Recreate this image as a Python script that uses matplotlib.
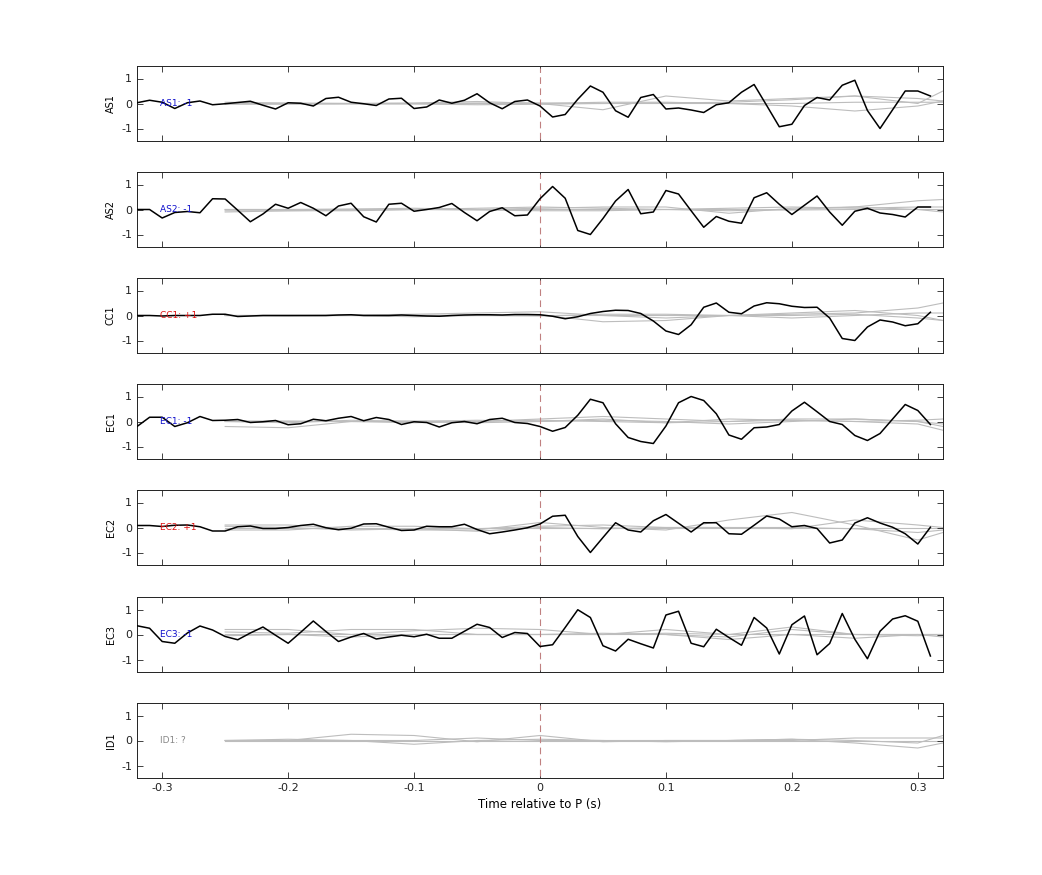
import numpy as np
import matplotlib
matplotlib.use("Agg")
import matplotlib.pyplot as plt

stations = ["AS1", "AS2", "CC1", "EC1", "EC2", "EC3", "ID1"]
labels = ["AS1: -1", "AS2: -1", "CC1: +1", "EC1: -1", "EC2: +1", "EC3: -1", "ID1: ?"]
label_colors = ["#1010cc", "#1010cc", "#dd1111", "#1010cc", "#dd1111", "#1010cc", "#888888"]

t_black = [-0.32 + 0.01 * i for i in range(64)]

AS1 = [0.03, 0.13, 0.05, -0.2, 0.03, 0.1, -0.05, -0.01, 0.04, 0.09, -0.07, -0.22, 0.03, 0.01, -0.1, 0.2,
       0.25, 0.05, -0.01, -0.08, 0.18, 0.21, -0.2, -0.14, 0.14, 0.01, 0.13, 0.39, 0.03, -0.21, 0.08, 0.14,
       -0.1, -0.54, -0.44, 0.17, 0.7, 0.45, -0.29, -0.55, 0.24, 0.36, -0.22, -0.18, -0.26, -0.36, -0.05, 0.03,
       0.45, 0.76, -0.08, -0.93, -0.83, -0.08, 0.24, 0.14, 0.73, 0.93, -0.28, -1.0, -0.25, 0.5, 0.5, 0.3]
AS2 = [0.0, 0.0, -0.34, -0.12, -0.08, -0.13, 0.43, 0.42, -0.03, -0.49, -0.18, 0.21, 0.05, 0.28, 0.05, -0.25,
       0.14, 0.25, -0.29, -0.5, 0.21, 0.25, -0.07, 0.0, 0.08, 0.24, -0.12, -0.45, -0.08, 0.07, -0.25, -0.22,
       0.43, 0.92, 0.45, -0.84, -1.0, -0.36, 0.34, 0.8, -0.17, -0.1, 0.76, 0.62, -0.05, -0.71, -0.28, -0.47,
       -0.55, 0.47, 0.67, 0.21, -0.2, 0.17, 0.54, -0.1, -0.63, -0.07, 0.05, -0.14, -0.2, -0.3, 0.1, 0.1]
CC1 = [0.0, 0.0, -0.02, 0.0, 0.0, 0.0, 0.05, 0.05, -0.04, -0.02, 0.0, 0.0, 0.0, 0.0, 0.0, 0.0,
       0.02, 0.03, 0.0, 0.0, 0.0, 0.02, 0.0, -0.02, -0.03, 0.0, 0.02, 0.03, 0.03, 0.02, 0.04, 0.04,
       0.03, -0.03, -0.13, -0.05, 0.08, 0.16, 0.21, 0.2, 0.08, -0.22, -0.62, -0.76, -0.37, 0.33, 0.5, 0.13,
       0.07, 0.38, 0.51, 0.47, 0.37, 0.32, 0.33, -0.1, -0.92, -1.0, -0.46, -0.18, -0.26, -0.41, -0.33, 0.13]
EC1 = [-0.2, 0.17, 0.17, -0.2, -0.05, 0.2, 0.04, 0.05, 0.08, -0.04, -0.01, 0.04, -0.13, -0.09, 0.09, 0.03,
       0.13, 0.2, 0.03, 0.16, 0.08, -0.12, -0.01, -0.04, -0.22, -0.05, 0.0, -0.09, 0.08, 0.13, -0.04, -0.08,
       -0.2, -0.39, -0.24, 0.25, 0.89, 0.75, -0.09, -0.64, -0.8, -0.88, -0.18, 0.75, 1.0, 0.84, 0.31, -0.54,
       -0.71, -0.25, -0.22, -0.12, 0.42, 0.77, 0.39, 0.0, -0.12, -0.56, -0.76, -0.48, 0.1, 0.68, 0.44, -0.12]
EC2 = [0.08, 0.08, 0.04, 0.09, 0.1, 0.03, -0.14, -0.14, 0.03, 0.06, -0.04, -0.04, 0.0, 0.08, 0.13, -0.01,
       -0.09, -0.03, 0.14, 0.15, 0.01, -0.12, -0.1, 0.05, 0.03, 0.03, 0.13, -0.08, -0.25, -0.18, -0.1, -0.01,
       0.14, 0.45, 0.49, -0.36, -1.0, -0.4, 0.19, -0.1, -0.18, 0.27, 0.52, 0.17, -0.18, 0.19, 0.19, -0.25,
       -0.27, 0.09, 0.46, 0.34, 0.03, 0.08, -0.04, -0.62, -0.5, 0.18, 0.39, 0.18, 0.01, -0.25, -0.66, 0.01]
EC3 = [0.35, 0.25, -0.28, -0.35, 0.06, 0.34, 0.18, -0.08, -0.21, 0.06, 0.3, -0.03, -0.35, 0.09, 0.54, 0.12,
       -0.28, -0.1, 0.04, -0.18, -0.1, -0.03, -0.09, 0.01, -0.15, -0.15, 0.13, 0.41, 0.28, -0.12, 0.08, 0.04,
       -0.48, -0.41, 0.28, 0.99, 0.68, -0.45, -0.66, -0.19, -0.37, -0.54, 0.78, 0.93, -0.35, -0.49, 0.21, -0.12,
       -0.43, 0.68, 0.26, -0.78, 0.39, 0.74, -0.81, -0.36, 0.84, -0.19, -0.97, 0.13, 0.62, 0.75, 0.53, -0.86]
black_series = [AS1, AS2, CC1, EC1, EC2, EC3, None]

t_gray = [-0.25, -0.2, -0.15, -0.1, -0.05, 0.0, 0.05, 0.1, 0.15, 0.2, 0.25, 0.3, 0.32]
gray_series = [
    [[0.0, 0.0, 0.0, 0.02, 0.08, 0.0, -0.25, 0.3, 0.1, 0.2, 0.3, 0.0, 0.5],
     [0.0, 0.0, 0.0, 0.0, 0.0, 0.0, 0.05, 0.05, 0.0, -0.1, -0.3, -0.1, 0.1],
     [0.05, 0.02, 0.0, 0.0, 0.02, 0.02, 0.0, 0.02, 0.05, 0.15, 0.3, 0.2, 0.1],
     [-0.03, -0.03, -0.02, -0.02, -0.05, -0.03, 0.0, 0.0, 0.0, 0.0, 0.05, 0.05, 0.05]],
    [[-0.1, -0.05, -0.05, 0.0, 0.05, 0.1, 0.05, 0.0, -0.05, 0.0, 0.1, 0.35, 0.4],
     [0.0, 0.0, 0.02, 0.05, 0.0, 0.05, 0.1, 0.1, -0.15, 0.05, 0.1, 0.0, -0.1],
     [-0.05, -0.05, -0.02, 0.0, 0.0, 0.0, 0.0, 0.0, 0.05, 0.1, 0.05, 0.1, 0.1],
     [0.0, 0.0, 0.0, 0.0, -0.02, -0.05, -0.05, 0.0, 0.0, -0.02, 0.0, 0.0, 0.0]],
    [[0.0, 0.0, 0.02, 0.05, 0.1, 0.15, 0.0, -0.1, 0.0, 0.05, 0.1, 0.3, 0.5],
     [0.0, -0.02, 0.0, -0.05, 0.0, 0.02, -0.25, -0.2, 0.0, 0.1, 0.2, 0.0, -0.2],
     [0.0, 0.0, 0.0, 0.02, 0.0, -0.02, 0.05, 0.05, 0.0, -0.1, 0.0, 0.1, 0.1],
     [0.0, 0.0, 0.0, 0.0, 0.0, 0.0, 0.0, 0.0, 0.0, 0.0, 0.05, -0.1, -0.2]],
    [[-0.2, -0.25, 0.0, 0.02, 0.0, 0.1, 0.2, 0.1, 0.0, 0.1, 0.1, 0.0, -0.2],
     [0.0, 0.0, 0.0, 0.0, 0.05, 0.0, 0.1, -0.05, 0.1, 0.05, 0.0, -0.1, -0.35],
     [0.02, 0.02, 0.0, -0.05, 0.0, 0.05, 0.0, -0.05, 0.0, 0.05, 0.0, 0.05, 0.1],
     [0.0, -0.05, 0.05, 0.0, -0.05, 0.0, 0.05, 0.0, -0.1, 0.0, 0.1, 0.0, -0.1]],
    [[0.1, 0.1, -0.05, -0.1, -0.1, 0.2, 0.0, -0.1, 0.3, 0.6, 0.1, -0.5, -0.2],
     [-0.1, -0.1, 0.05, 0.05, -0.05, 0.05, 0.1, 0.0, 0.0, -0.05, 0.3, 0.1, 0.0],
     [0.05, 0.0, -0.1, -0.05, -0.15, 0.0, -0.05, 0.0, 0.0, 0.0, -0.05, -0.2, -0.1],
     [0.0, 0.0, 0.0, 0.0, 0.0, 0.0, 0.0, 0.0, 0.0, 0.0, 0.0, 0.0, 0.0]],
    [[0.2, 0.2, 0.0, 0.15, 0.25, 0.2, 0.0, 0.0, -0.1, 0.2, 0.0, 0.0, -0.1],
     [0.1, 0.05, 0.2, 0.2, 0.0, 0.0, 0.0, 0.2, 0.0, 0.3, 0.0, -0.05, 0.0],
     [-0.05, 0.0, -0.1, 0.0, 0.0, 0.0, 0.05, 0.0, -0.2, 0.0, -0.15, 0.0, 0.0],
     [0.0, 0.0, 0.0, 0.0, 0.0, 0.0, 0.0, 0.05, 0.0, 0.0, 0.0, 0.0, 0.0]],
    [[0.0, 0.0, 0.25, 0.2, -0.05, 0.2, -0.05, 0.0, 0.0, 0.05, 0.0, -0.1, 0.2],
     [0.0, 0.0, 0.0, -0.15, 0.0, 0.05, 0.0, -0.05, 0.0, 0.05, -0.1, -0.3, -0.1],
     [0.0, 0.05, 0.0, 0.0, 0.1, 0.0, 0.0, 0.0, 0.0, 0.0, 0.1, 0.1, 0.1],
     [0.0, 0.0, 0.0, 0.0, 0.0, 0.0, 0.0, 0.0, 0.0, 0.0, 0.0, 0.0, 0.0]],
]

xticks = [-0.3, -0.2, -0.1, 0, 0.1, 0.2, 0.3]
xticklabels = ["-0.3", "-0.2", "-0.1", "0", "0.1", "0.2", "0.3"]

fig = plt.figure(figsize=(10.42, 8.75), dpi=100)
W, H = 1042, 875
left, right = 137, 943
tops = [66, 172, 278, 384, 490, 597, 703]
ph = 75
for k, st in enumerate(stations):
    ax = fig.add_axes([left / W, 1 - (tops[k] + ph) / H, (right - left) / W, ph / H])
    for g in gray_series[k]:
        ax.plot(t_gray, g, color="#bdbdbd", lw=0.8, zorder=1)
    ax.axvline(0, color="#c08080", lw=0.8, ls=(0, (6, 4)), ymin=0.03, ymax=0.97, zorder=2)
    if black_series[k] is not None:
        ax.plot(t_black, black_series[k], color="black", lw=1.1, zorder=3)
    ax.text(-0.302, 0, labels[k], color=label_colors[k], fontsize=6.5, va="center", ha="left", zorder=4)
    ax.set_xlim(-0.32, 0.32)
    ax.set_ylim(-1.5, 1.5)
    ax.set_yticks([-1, 0, 1])
    ax.set_yticklabels(["-1", "0", "1"], fontsize=8)
    ax.set_xticks(xticks)
    ax.tick_params(direction="in", top=True, right=True, length=4, width=0.6, colors="#222222")
    if k == len(stations) - 1:
        ax.set_xticklabels(xticklabels, fontsize=8)
        ax.set_xlabel("Time relative to P (s)", fontsize=8.5)
    else:
        ax.set_xticklabels([])
    ax.set_ylabel(st, fontsize=7)
    for s in ax.spines.values():
        s.set_linewidth(0.7)
        s.set_color("#222222")

fig.savefig("out.png", dpi=100, facecolor="white")
